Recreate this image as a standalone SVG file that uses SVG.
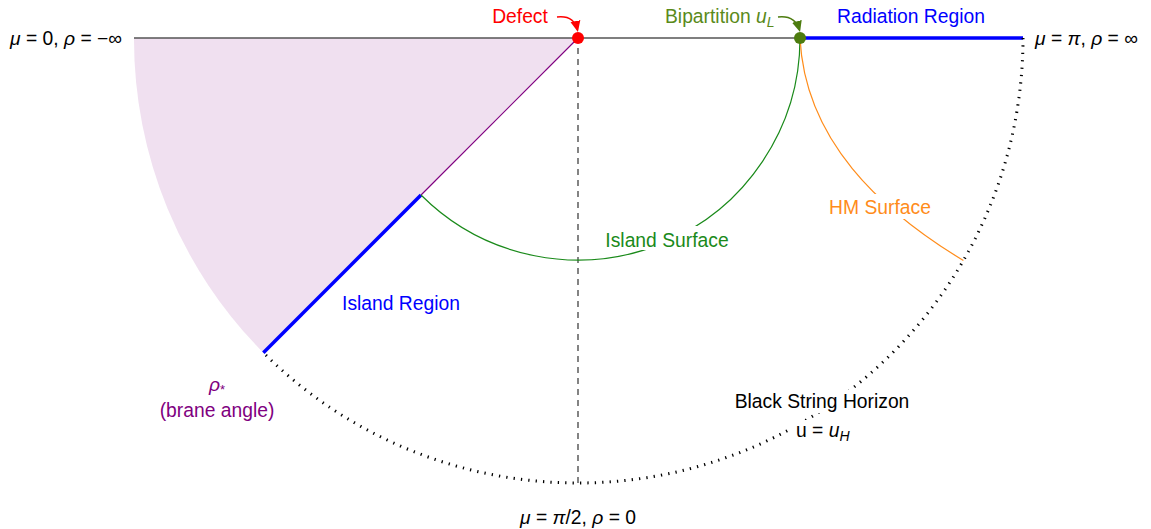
<svg xmlns="http://www.w3.org/2000/svg" width="1151" height="529" viewBox="0 0 1151 529">
<style>
text{font-family:"Liberation Sans",Arial,sans-serif;font-size:19.3px;fill:#000}
.it{font-style:italic}
.bg{fill:#fff;stroke:none}
</style>
<defs>
<marker id="ahR" markerWidth="12" markerHeight="12" refX="9" refY="6" orient="auto" markerUnits="userSpaceOnUse"><path d="M0,1 L11,6 L0,11 Z" fill="#ff0000"/></marker>
<marker id="ahG" markerWidth="12" markerHeight="12" refX="9" refY="6" orient="auto" markerUnits="userSpaceOnUse"><path d="M0,1 L11,6 L0,11 Z" fill="#4d7c0f"/></marker>
</defs>
<rect width="1151" height="529" fill="#fff"/>
<g id="brane-wedge">
<path d="M578,38 L134,38 A445,445 0 0,0 263.34,352.66 Z" fill="#f0e0f0"/>
</g>
<g id="connectors" fill="none">
<line x1="134" y1="38" x2="800" y2="38" stroke="#555" stroke-width="1.3"/>
<line x1="800" y1="38" x2="1023" y2="38" stroke="#0000ff" stroke-width="3.5"/>
<line x1="578" y1="48" x2="578" y2="483" stroke="#333" stroke-width="1.2" stroke-dasharray="6,5"/>
<line x1="578" y1="38" x2="421.02" y2="194.98" stroke="#800080" stroke-width="1.2"/>
<line x1="421.02" y1="194.98" x2="263.34" y2="352.66" stroke="#0000ff" stroke-width="3.5"/>
<path d="M1023,38 A445,445 0 0,1 263.34,352.66" stroke="#000" stroke-width="3" stroke-dasharray="1.3,6.1"/>
<path d="M421.02,194.98 A222,222 0 0,0 800,38" stroke="#1a8a1a" stroke-width="1.2"/>
<path d="M800,38 C805,140 880,210 963.4,260.5" stroke="#ff8c1a" stroke-width="1.2"/>
<path d="M557,17 Q574,15 577.5,30" stroke="#ff0000" stroke-width="1.4" marker-end="url(#ahR)"/>
<path d="M778,17 Q795,15 799.5,30" stroke="#4d7c0f" stroke-width="1.4" marker-end="url(#ahG)"/>
</g>
<g id="defect">
<circle cx="578" cy="38" r="6" fill="#ff0000"/>
<text x="520" y="23" text-anchor="middle" style="fill:#ff0000">Defect</text>
</g>
<g id="bipartition">
<circle cx="800" cy="38" r="6" fill="#4d7c0f"/>
<text x="665" y="23" style="fill:#5a8a1a">Bipartition <tspan class="it">u</tspan><tspan class="it" font-size="14" dy="4">L</tspan></text>
</g>
<g id="radiation-region">
<text x="911" y="23" text-anchor="middle" style="fill:#0000ff">Radiation Region</text>
</g>
<g id="left-end">
<text x="10" y="45"><tspan class="it">μ</tspan> = 0, <tspan class="it">ρ</tspan> = −∞</text>
</g>
<g id="right-end">
<text x="1035" y="45"><tspan class="it">μ</tspan> = <tspan class="it">π</tspan>, <tspan class="it">ρ</tspan> = ∞</text>
</g>
<g id="bottom-end">
<text x="578" y="524" text-anchor="middle"><tspan class="it">μ</tspan> = <tspan class="it">π</tspan>/2, <tspan class="it">ρ</tspan> = 0</text>
</g>
<g id="island-region">
<text x="401" y="310" text-anchor="middle" style="fill:#0000ff">Island Region</text>
</g>
<g id="island-surface">
<rect class="bg" x="602" y="226" width="130" height="24"/>
<text x="667" y="247" text-anchor="middle" style="fill:#1a8a1a">Island Surface</text>
</g>
<g id="hm-surface">
<rect class="bg" x="827" y="194" width="107" height="25"/>
<text x="880" y="214" text-anchor="middle" style="fill:#ff8c1a">HM Surface</text>
</g>
<g id="brane-angle">
<text x="217" y="391" text-anchor="middle" style="fill:#800080"><tspan class="it">ρ</tspan><tspan font-size="13" dy="3">*</tspan></text>
<text x="217" y="417" text-anchor="middle" style="fill:#800080">(brane angle)</text>
</g>
<g id="horizon">
<rect class="bg" x="733" y="390" width="180" height="23"/>
<text x="822" y="408" text-anchor="middle">Black String Horizon</text>
<rect class="bg" x="792" y="420" width="62" height="24"/>
<text x="796" y="437">u = <tspan class="it">u</tspan><tspan class="it" font-size="14" dy="4">H</tspan></text>
</g>
</svg>
